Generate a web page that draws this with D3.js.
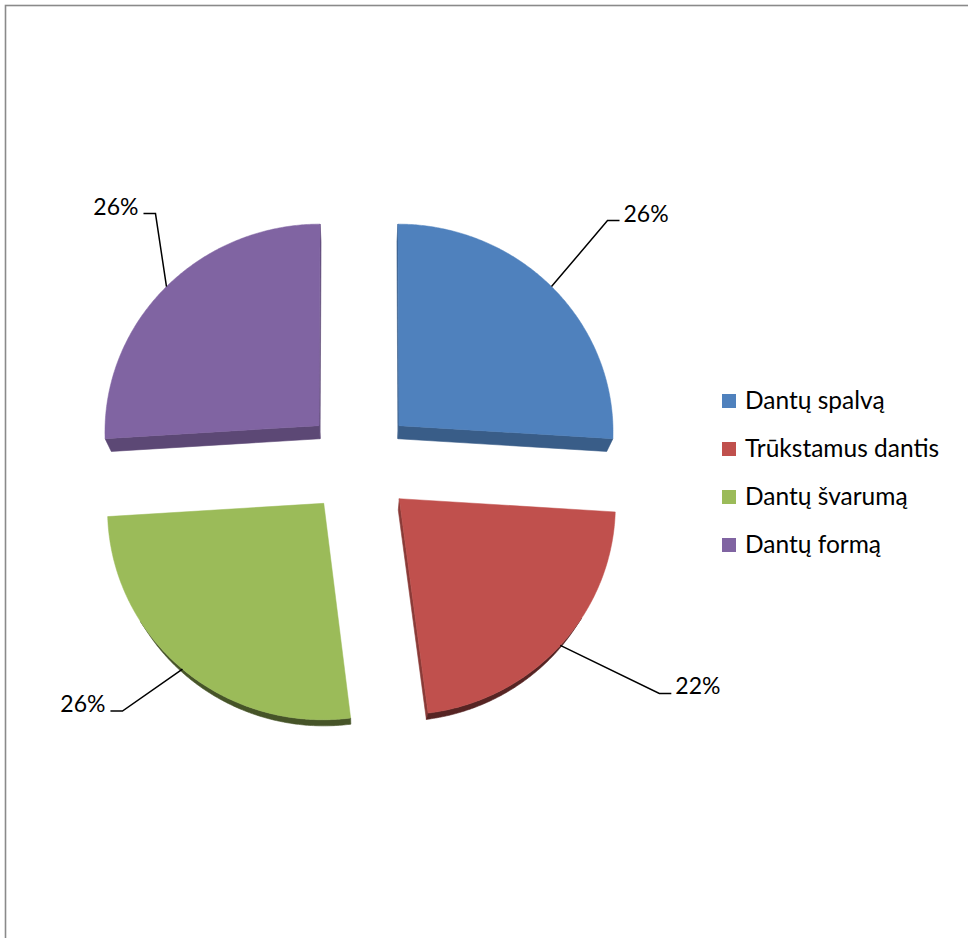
<!DOCTYPE html>
<html>
<head>
<meta charset="utf-8">
<script src="https://cdn.jsdelivr.net/npm/d3@7/dist/d3.min.js"></script>
<style>
  html, body { margin: 0; padding: 0; background: #fff; }
  svg { display: block; }
  text { font-family: Lato, Carlito, "Open Sans", sans-serif; }
</style>
</head>
<body>
<svg id="chart" width="968" height="938"></svg>
<script>
// ---- data ----
const categories = ["Dantų spalvą", "Trūkstamus dantis", "Dantų švarumą", "Dantų formą"];
const values = [26, 22, 26, 26];
const valueLabels = ["26%", "22%", "26%", "26%"];
const colors = ["#4F81BD", "#C0504D", "#9BBB59", "#8064A2"];

// ---- layout ----
const W = 968, H = 938;
const view = { d: 2000, phi: 14 * Math.PI / 180, cx: 359, cy: 462, h: 52, R: 215, explode: 55 };
const labelElbow = [[56, -66], [99, 48], [-60, 42], [-11, -73]]; // offset of leader elbow from anchor
const legend = { x: 722, y: 394, sq: 14, gap: 23, step: 48, fontSize: 24.5 };

const svg = d3.select("#chart");

// frame
svg.append("rect").attr("x", 5.5).attr("y", 5.5).attr("width", W + 20).attr("height", H + 20)
  .attr("fill", "#fff").attr("stroke", "#8a8a8a").attr("stroke-width", 1.6);

const color = d3.scaleOrdinal(categories, colors);
const pie = d3.pie().sort(null).value(d => d.value).startAngle(0).endAngle(2 * Math.PI);
const arcs = pie(categories.map((c, i) => ({ name: c, value: values[i], label: valueLabels[i] })));

const sinP = Math.sin(view.phi), cosP = Math.cos(view.phi);
const cam = [0, view.d * sinP, view.h + view.d * cosP];
function project(X, Y, Z) {
  const vy = Y - cam[1], vz = Z - cam[2];
  const D = -vy * sinP - vz * cosP;
  return [view.cx + view.d * X / D, view.cy + view.d * (vy * cosP - vz * sinP) / D];
}
const dir = a => [Math.sin(a), -Math.cos(a)];
const line = d3.line();

function shade(c, k) {
  const col = d3.rgb(c);
  return d3.rgb(col.r * k, col.g * k, col.b * k).formatHex();
}

const g = svg.append("g");
const step = Math.PI / 360;

arcs.forEach((a, i) => {
  const base = color(a.data.name);
  const mid = (a.startAngle + a.endAngle) / 2;
  const md = dir(mid);
  const o = [md[0] * view.explode, md[1] * view.explode];
  const R = view.R, h = view.h;
  const n = Math.max(2, Math.ceil((a.endAngle - a.startAngle) / step));
  const angs = d3.range(n + 1).map(k => a.startAngle + (a.endAngle - a.startAngle) * k / n);
  const rim = (ang, Z) => { const u = dir(ang); return project(o[0] + R * u[0], o[1] + R * u[1], Z); };
  const sg = g.append("g");

  // cut faces
  const faces = [
    { ang: a.startAngle, n: [-Math.cos(a.startAngle), -Math.sin(a.startAngle)] },
    { ang: a.endAngle, n: [Math.cos(a.endAngle), Math.sin(a.endAngle)] }
  ];
  faces.forEach(f => {
    const vis = f.n[0] * (cam[0] - o[0]) + f.n[1] * (cam[1] - o[1]);
    if (vis > 0) {
      const pts = [project(o[0], o[1], h), rim(f.ang, h), rim(f.ang, 0), project(o[0], o[1], 0)];
      const c = shade(base, 0.72);
      sg.append("path").attr("d", line(pts) + "Z").attr("fill", c).attr("stroke", c).attr("stroke-width", 0.6);
    }
  });

  // outer rim side: visible runs
  let runs = [], cur = null;
  for (let k = 0; k < n; k++) {
    const am = (angs[k] + angs[k + 1]) / 2;
    const u = dir(am);
    const P = [o[0] + R * u[0], o[1] + R * u[1]];
    const vis = u[0] * (cam[0] - P[0]) + u[1] * (cam[1] - P[1]) > 0;
    if (vis) { if (!cur) { cur = [k]; runs.push(cur); } cur[1] = k + 1; }
    else cur = null;
  }
  runs.forEach(r => {
    const top = [], bot = [];
    for (let k = r[0]; k <= r[1]; k++) { top.push(rim(angs[k], h)); bot.push(rim(angs[k], 0)); }
    const pts = top.concat(bot.reverse());
    const c = shade(base, 0.45);
    sg.append("path").attr("d", line(pts) + "Z").attr("fill", c).attr("stroke", c).attr("stroke-width", 0.6);
  });

  // top face
  const topPts = [project(o[0], o[1], h)].concat(angs.map(t => rim(t, h)));
  sg.append("path").attr("d", line(topPts) + "Z").attr("fill", base).attr("stroke", base).attr("stroke-width", 0.5);

  // label with leader
  const anchor = rim(mid, h);
  const off = labelElbow[i];
  const elbow = [anchor[0] + off[0], anchor[1] + off[1]];
  const right = off[0] > 0;
  const end = [elbow[0] + (right ? 12 : -12), elbow[1]];
  svg.append("path").attr("d", line([anchor, elbow, end]))
    .attr("fill", "none").attr("stroke", "#000").attr("stroke-width", 1.5);
  svg.append("text").attr("x", end[0] + (right ? 4 : -5)).attr("y", elbow[1] + 1)
    .attr("text-anchor", right ? "start" : "end")
    .attr("font-size", 23).attr("fill", "#000").text(a.data.label);
});

// legend
const lg = svg.append("g");
categories.forEach((c, i) => {
  lg.append("rect").attr("x", legend.x).attr("y", legend.y + i * legend.step)
    .attr("width", legend.sq).attr("height", legend.sq).attr("fill", color(c));
  lg.append("text").attr("x", legend.x + legend.gap).attr("y", legend.y + legend.sq + 1 + i * legend.step)
    .attr("font-size", legend.fontSize).attr("fill", "#000").text(c);
});
</script>
</body>
</html>
